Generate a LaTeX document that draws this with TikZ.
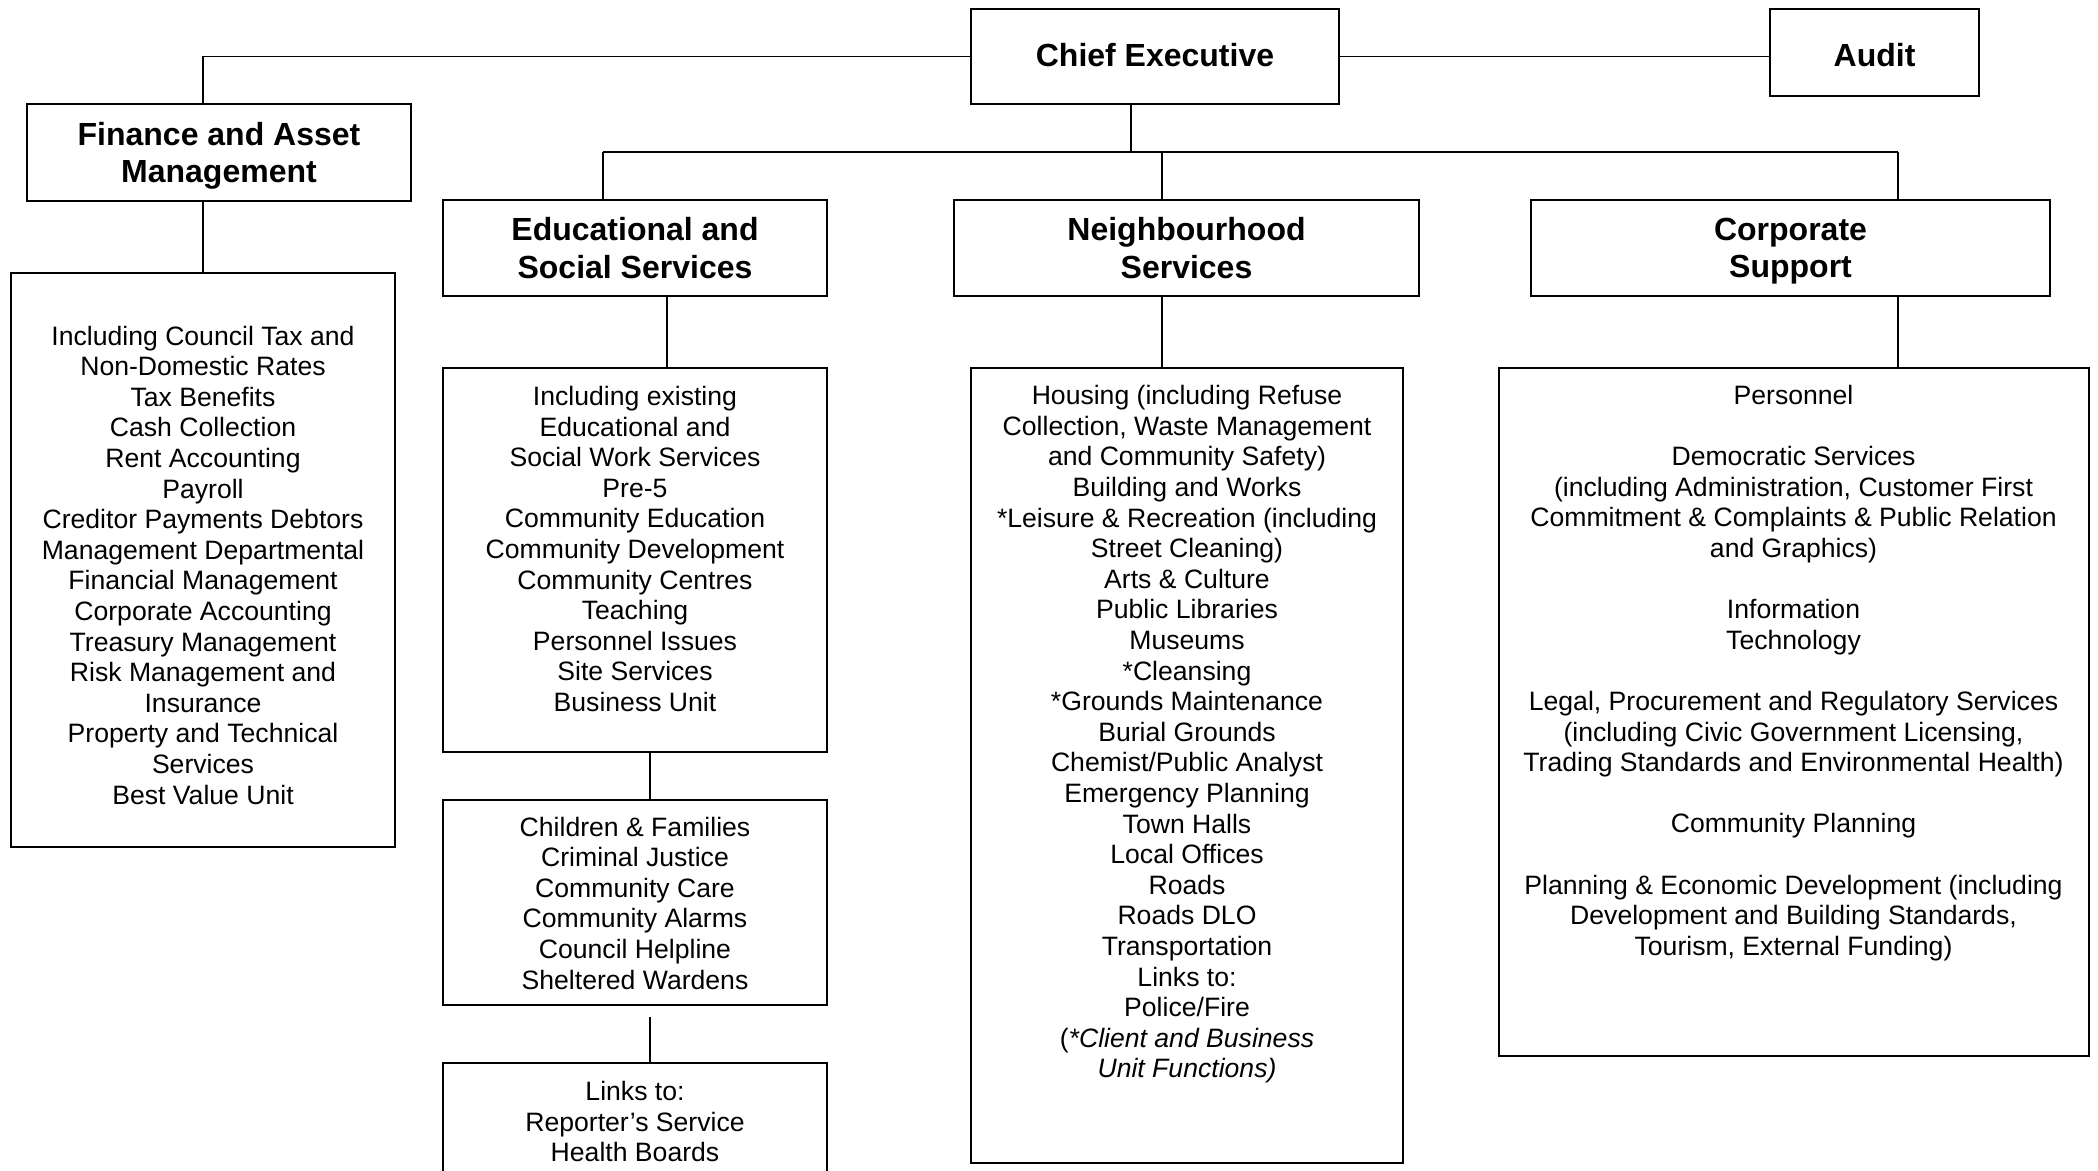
\documentclass[tikz,border=0pt]{standalone}
\usepackage{fontspec}
\setmainfont{Liberation Sans}
\newcommand{\orgHead}{\fontsize{32pt}{37.5pt}\selectfont\bfseries}
\newcommand{\orgList}{\fontsize{26.6pt}{30.6pt}\selectfont}
\begin{document}
\begin{tikzpicture}[x=1pt,y=-1pt,
  box/.style={draw, line width=1.8pt, inner sep=0pt, align=center, font=\orgHead, text depth=0pt},
  listbox/.style={draw, line width=1.8pt, inner sep=0pt},
  listtxt/.style={inner sep=0pt, align=center, font=\orgList},
  conn/.style={line width=1.5pt}]
\fill[white] (0,0) rectangle (2098,1170);
\useasboundingbox (0,0) rectangle (2098,1170);
\clip (0,0) rectangle (2098,1170);

% heading boxes
\node[box, minimum width=368pt, minimum height=95pt, text height=20.5pt] (ce) at (1155,56.5) {Chief Executive};
\node[box, minimum width=209pt, minimum height=87pt, text height=28.5pt] (audit) at (1874.5,52.5) {Audit};
\node[box, minimum width=384pt, minimum height=97pt] (fin) at (219,152.5) {Finance and Asset\\Management};
\node[box, minimum width=384pt, minimum height=96pt] (edu) at (635,248) {Educational and\\Social Services};
\node[box, minimum width=465pt, minimum height=96pt] (neigh) at (1186.5,248) {Neighbourhood\\Services};
\node[box, minimum width=519pt, minimum height=96pt] (cor) at (1790.5,248) {Corporate\\Support};

% list boxes
\node[listbox, minimum width=384pt, minimum height=574pt] (finL) at (203,560) {};
\node[listbox, minimum width=384pt, minimum height=384pt] (eduL) at (635,560) {};
\node[listbox, minimum width=384pt, minimum height=205pt] (chl) at (635,902.5) {};
\node[listbox, minimum width=384pt, minimum height=160pt] (lnk) at (635,1143) {};
\node[listbox, minimum width=432pt, minimum height=795pt] (neighL) at (1187,765.5) {};
\node[listbox, minimum width=590pt, minimum height=688pt] (corL) at (1794,712) {};

% list texts
\node[listtxt] (finT) at (203,565) {Including Council Tax and\\Non-Domestic Rates\\Tax Benefits\\Cash Collection\\Rent Accounting\\Payroll\\Creditor Payments Debtors\\Management Departmental\\Financial Management\\Corporate Accounting\\Treasury Management\\Risk Management and\\Insurance\\Property and Technical\\Services\\Best Value Unit};
\node[listtxt] (eduT) at (635,549) {Including existing\\Educational and\\Social Work Services\\Pre-5\\Community Education\\Community Development\\Community Centres\\Teaching\\Personnel Issues\\Site Services\\Business Unit};
\node[listtxt] (chlT) at (635,903) {Children \& Families\\Criminal Justice\\Community Care\\Community Alarms\\Council Helpline\\Sheltered Wardens};
\node[listtxt] (lnkT) at (635,1121.5) {Links to:\\Reporter’s Service\\Health Boards};
\node[listtxt] (neighT) at (1187,734.5) {Housing (including Refuse\\Collection, Waste Management\\and Community Safety)\\Building and Works\\*Leisure \& Recreation (including\\Street Cleaning)\\Arts \& Culture\\Public Libraries\\Museums\\*Cleansing\\*Grounds Maintenance\\Burial Grounds\\Chemist/Public Analyst\\Emergency Planning\\Town Halls\\Local Offices\\Roads\\Roads DLO\\Transportation\\Links to:\\Police/Fire\\(\textit{*Client and Business}\\\textit{Unit Functions)}};
\node[listtxt] (corT) at (1793.5,673) {Personnel\\[30.6pt]Democratic Services\\(including Administration, Customer First\\Commitment \& Complaints \& Public Relation\\and Graphics)\\[30.6pt]Information\\Technology\\[30.6pt]Legal, Procurement and Regulatory Services\\(including Civic Government Licensing,\\Trading Standards and Environmental Health)\\[30.6pt]Community Planning\\[30.6pt]Planning \& Economic Development (including\\Development and Building Standards,\\Tourism, External Funding)};

% junction coordinates
\coordinate (ceJ) at (1131,152);
\coordinate (eduJ) at (603,152);
\coordinate (neighJ) at (1162,152);
\coordinate (corJ) at (1898,152);

% connectors
\draw[conn] (ce.west) -| (finL.north |- fin.north);
\draw[conn] (ce.east) -- (ce.east -| audit.west);
\draw[conn] (finL.north |- fin.south) -- (finL.north);
\draw[conn] (ceJ |- ce.south) -- (ceJ);
\draw[conn] (eduJ) -- (corJ);
\draw[conn] (eduJ) -- (eduJ |- edu.north);
\draw[conn] (neighJ) -- (neighJ |- neigh.north);
\draw[conn] (corJ) -- (corJ |- cor.north);
\draw[conn] ([xshift=32pt]edu.south) -- ([xshift=32pt]edu.south |- eduL.north);
\draw[conn] ([xshift=15pt]eduL.south) -- ([xshift=15pt]eduL.south |- chl.north);
\draw[conn] ([xshift=15pt,yshift=-11pt]chl.south) -- ([xshift=15pt]chl.south |- lnk.north);
\draw[conn] (neighJ |- neigh.south) -- (neighJ |- neighL.north);
\draw[conn] (corJ |- cor.south) -- (corJ |- corL.north);
\end{tikzpicture}
\end{document}
